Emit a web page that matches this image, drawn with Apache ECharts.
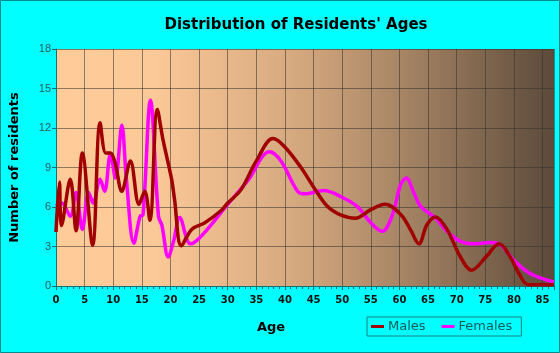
<!DOCTYPE html>
<html>
<head>
<meta charset="utf-8">
<script src="https://cdn.jsdelivr.net/npm/echarts@6/dist/echarts.min.js"></script>
<style>
  html, body { margin: 0; padding: 0; background: #00ffff; }
  #chart { width: 560px; height: 353px; }
</style>
</head>
<body>
<div id="chart"></div>
<script>
var maleAges = [0, 0.6, 0.95, 2.5, 3.5, 4.6, 6.4, 7.7, 8.7, 9.5, 10.3, 11.5, 13, 14.5, 15.5, 16.4, 17.7, 18.7, 20.2, 20.7, 21.9, 23.7, 26, 28.9, 30, 32.3, 35, 37.9, 39.9, 42.8, 45.1, 47.4, 49.7, 52.3, 55, 57.5, 60.3, 61.9, 63.4, 64.8, 66.3, 68.3, 70.6, 72.6, 75.2, 77.4, 79.3, 81, 82.5, 87];
var maleCounts = [4.1, 7.9, 4.6, 8.1, 4.2, 10.1, 3.1, 12.4, 10.1, 10.1, 9.4, 7.2, 9.5, 6.2, 7.2, 5.0, 13.4, 11.1, 8.1, 6.6, 3.05, 4.3, 4.8, 5.75, 6.3, 7.3, 9.5, 11.2, 10.6, 9.0, 7.45, 6.05, 5.4, 5.15, 5.8, 6.2, 5.4, 4.3, 3.2, 4.65, 5.25, 4.3, 2.25, 1.2, 2.25, 3.2, 2.25, 0.85, 0.1, 0.1];
var femaleAges = [0, 1.0, 2.5, 3.5, 4.6, 5.7, 6.5, 7.7, 8.5, 9.5, 10.4, 11.5, 12.3, 13.6, 14.7, 15.2, 16.5, 17.9, 18.5, 19.6, 20.6, 21.6, 23.5, 25.4, 30, 33.5, 37.3, 39.3, 42.2, 43.4, 46.8, 49.7, 52.6, 55, 57, 58.7, 60.2, 61.2, 62.5, 63.7, 66.3, 68.3, 70.6, 72.9, 75.8, 77.6, 79.9, 82.8, 87];
var femaleCounts = [6.1, 6.3, 5.3, 7.1, 4.3, 7.1, 6.3, 8.1, 7.2, 10, 8.2, 12.2, 8.1, 3.25, 5.3, 5.4, 14.1, 5.3, 4.6, 2.2, 3.5, 5.2, 3.2, 3.8, 6.2, 8.0, 10.2, 9.5, 7.2, 7.0, 7.25, 6.8, 6.05, 4.8, 4.15, 5.3, 7.7, 8.2, 7.1, 6.05, 5.15, 4.15, 3.4, 3.2, 3.3, 3.15, 2.0, 0.95, 0.3];

function pairs(xs, ys) {
    return xs.map(function (x, i) { return [x, ys[i]]; });
}

var chart = echarts.init(document.getElementById('chart'));
var option = {
    backgroundColor: '#00ffff',
    animation: false,
    title: [{
        text: "Distribution of Residents' Ages",
        left: 291,
        top: 13,
        textAlign: 'center',
        textStyle: { fontFamily: 'DejaVu Sans', fontWeight: 'bold', fontSize: 15, color: '#000' }
    }, {
        text: 'Age',
        left: 266,
        top: 316,
        textAlign: 'center',
        textStyle: { fontFamily: 'DejaVu Sans', fontWeight: 'bold', fontSize: 13, color: '#000' }
    }],
    graphic: [{
        type: 'rect',
        shape: { x: 0.5, y: 0.5, width: 559, height: 352 },
        style: { fill: 'none', stroke: '#0a8a8a', lineWidth: 1 },
        silent: true
    }],
    legend: {
        left: 367,
        top: 317,
        padding: [3, 9, 3, 4],
        itemGap: 16,
        itemWidth: 13,
        itemHeight: 3,
        icon: 'rect',
        borderColor: '#1a8080',
        borderWidth: 1,
        textStyle: { fontFamily: 'DejaVu Sans', fontSize: 13, color: '#135a5a', padding: [0, 0, 0, -1] },
        data: ['Males', 'Females']
    },
    grid: {
        left: 54,
        top: 49,
        right: 6,
        bottom: 67,
        show: true,
        borderWidth: 0,
        backgroundColor: new echarts.graphic.LinearGradient(0, 0, 1, 0, [
            { offset: 0, color: '#ffcc99' },
            { offset: 0.2, color: '#fbc897' },
            { offset: 0.5, color: '#d2a67d' },
            { offset: 0.75, color: '#9a7b5e' },
            { offset: 1, color: '#5c4a3a' }
        ])
    },
    xAxis: {
        type: 'value',
        min: 0,
        max: 87,
        interval: 5,
        axisLine: { lineStyle: { color: '#1a7070', width: 1 } },
        axisTick: { show: true, length: 4, lineStyle: { color: '#1a7070' } },
        minorTick: { show: true, splitNumber: 5, length: 3, lineStyle: { color: '#1a7070' } },
        axisLabel: {
            showMaxLabel: false,
            margin: 9,
            fontFamily: 'DejaVu Sans',
            fontWeight: 'bold',
            fontSize: 10,
            color: '#111'
        },
        splitLine: { show: true, lineStyle: { color: 'rgba(50,50,50,0.55)', width: 1 } }
    },
    yAxis: {
        type: 'value',
        min: 0,
        max: 18,
        interval: 3,
        name: 'Number of residents',
        nameLocation: 'middle',
        nameGap: 35,
        nameTextStyle: { fontFamily: 'DejaVu Sans', fontWeight: 'bold', fontSize: 13, color: '#000' },
        axisLine: { show: true, lineStyle: { color: '#1a7070', width: 1 } },
        axisTick: { show: true, length: 4, lineStyle: { color: '#1a7070' } },
        axisLabel: { margin: 5, fontFamily: 'Liberation Sans', fontSize: 11, color: '#2a5a5a' },
        splitLine: { show: true, lineStyle: { color: 'rgba(50,50,50,0.55)', width: 1 } }
    },
    series: [{
        name: 'Males',
        type: 'line',
        smooth: 0.35,
        showSymbol: false,
        symbol: 'none',
        z: 3,
        lineStyle: { width: 3.5, color: '#a00000' },
        itemStyle: { color: '#a00000' },
        data: pairs(maleAges, maleCounts)
    }, {
        name: 'Females',
        type: 'line',
        smooth: 0.35,
        showSymbol: false,
        symbol: 'none',
        z: 2,
        lineStyle: { width: 3.5, color: '#ff00ff' },
        itemStyle: { color: '#ff00ff' },
        data: pairs(femaleAges, femaleCounts)
    }]
};
chart.setOption(option);
</script>
</body>
</html>
